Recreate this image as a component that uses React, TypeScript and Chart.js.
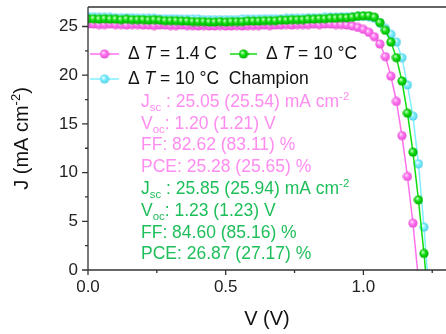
import React, { useEffect, useRef } from "react";
import { Chart, registerables } from "chart.js";

Chart.register(...registerables);

// ---------- data ----------
const voltage = [
  0.0, 0.02, 0.04, 0.06, 0.08, 0.1, 0.12, 0.14, 0.16, 0.18,
  0.2, 0.22, 0.24, 0.26, 0.28, 0.3, 0.32, 0.34, 0.36, 0.38,
  0.4, 0.42, 0.44, 0.46, 0.48, 0.5, 0.52, 0.54, 0.56, 0.58,
  0.6, 0.62, 0.64, 0.66, 0.68, 0.7, 0.72, 0.74, 0.76, 0.78,
  0.8, 0.82, 0.84, 0.86, 0.88, 0.9, 0.92, 0.94, 0.96, 0.98,
  1.0, 1.02, 1.04, 1.06, 1.08, 1.1, 1.12, 1.14, 1.16, 1.18,
  1.2, 1.22, 1.24,
];

// ΔT = 1.4 C
const jPink = [
  25.25, 25.25, 25.2, 25.2, 25.25, 25.2, 25.2, 25.15, 25.2, 25.2,
  25.15, 25.15, 25.1, 25.15, 25.15, 25.1, 25.1, 25.15, 25.1, 25.1,
  25.05, 25.1, 25.05, 25.05, 25.1, 25.05, 25.05, 25.1, 25.05, 25.1,
  25.1, 25.1, 25.15, 25.1, 25.15, 25.15, 25.2, 25.15, 25.2, 25.2,
  25.2, 25.25, 25.2, 25.25, 25.25, 25.2, 25.2, 25.15, 25.05, 24.9,
  24.7, 24.4, 23.95, 23.2, 21.9, 19.9, 17.3, 13.8, 9.6, 4.8,
  -1.0,
];

// ΔT = 10 °C
const jGreen = [
  25.8, 25.8, 25.75, 25.8, 25.75, 25.75, 25.7, 25.75, 25.7, 25.7,
  25.7, 25.65, 25.7, 25.65, 25.6, 25.6, 25.6, 25.55, 25.55, 25.5,
  25.5, 25.5, 25.45, 25.45, 25.5, 25.45, 25.5, 25.5, 25.5, 25.55,
  25.55, 25.55, 25.6, 25.6, 25.6, 25.65, 25.65, 25.7, 25.7, 25.7,
  25.75, 25.75, 25.8, 25.8, 25.85, 25.85, 25.9, 25.9, 25.95, 26.05,
  26.1, 26.1, 25.95, 25.4, 24.6, 23.4, 21.8, 19.4, 16.1, 12.1,
  7.2, 1.7, -4.5,
];

// ΔT = 10 °C Champion
const jCyan = [
  26.0, 26.0, 25.95, 25.95, 25.95, 25.9, 25.9, 25.9, 25.9, 25.85,
  25.85, 25.85, 25.85, 25.8, 25.8, 25.8, 25.8, 25.75, 25.75, 25.75,
  25.75, 25.7, 25.7, 25.7, 25.7, 25.7, 25.7, 25.7, 25.75, 25.75,
  25.75, 25.75, 25.8, 25.8, 25.8, 25.8, 25.85, 25.85, 25.85, 25.85,
  25.9, 25.9, 25.9, 25.95, 25.95, 25.95, 26.0, 26.0, 26.0, 26.05,
  26.05, 26.0, 25.85, 25.4, 24.8, 24.2, 23.4, 21.8, 19.0, 15.8,
  10.9, 4.4, -3.0,
];

const xTickValues = [0, 0.5, 1.0];
const xTickLabels = ["0.0", "0.5", "1.0"];
const xMinorValues = [0.25, 0.75, 1.25];
const yTickValues = [0, 5, 10, 15, 20, 25];
const yTickLabels = ["0", "5", "10", "15", "20", "25"];
const yMinorValues = [2.5, 7.5, 12.5, 17.5, 22.5];

const legendPink = "= 1.4 C";
const legendGreen = "= 10 °C";
const legendCyan = "= 10 °C  Champion";

type Seg = { t: string; k?: "sub" | "sup" | "i" };
const statsPink: Seg[][] = [
  [{ t: "J" }, { t: "sc", k: "sub" }, { t: " : 25.05 (25.54) mA cm" }, { t: "-2", k: "sup" }],
  [{ t: "V" }, { t: "oc", k: "sub" }, { t: ": 1.20 (1.21) V" }],
  [{ t: "FF: 82.62 (83.11) %" }],
  [{ t: "PCE: 25.28 (25.65) %" }],
];
const statsGreen: Seg[][] = [
  [{ t: "J" }, { t: "sc", k: "sub" }, { t: " : 25.85 (25.94) mA cm" }, { t: "-2", k: "sup" }],
  [{ t: "V" }, { t: "oc", k: "sub" }, { t: ": 1.23 (1.23) V" }],
  [{ t: "FF: 84.60 (85.16) %" }],
  [{ t: "PCE: 26.87 (27.17) %" }],
];

// ---------- style ----------
const FONT = "'Liberation Sans', Arial, Helvetica, sans-serif";
const PINK = { base: "#ff6ef0", hi: "#ffe0fb", dark: "#e050d0", line: "#ff70ee", text: "#ff8cf0" };
const GREEN = { base: "#10dd10", hi: "#c8ffc8", dark: "#00a800", line: "#10dd10", text: "#1ebe5a" };
const CYAN = { base: "#78ecff", hi: "#f0ffff", dark: "#50cce0", line: "#80f0ff" };

function makeBall(c: { base: string; hi: string; dark: string }) {
  const cv = document.createElement("canvas");
  cv.width = 10;
  cv.height = 10;
  const g = cv.getContext("2d")!;
  const grad = g.createRadialGradient(3.6, 3.4, 0.3, 5, 5, 5);
  grad.addColorStop(0, c.hi);
  grad.addColorStop(0.45, c.base);
  grad.addColorStop(1, c.dark);
  g.fillStyle = grad;
  g.beginPath();
  g.arc(5, 5, 4.6, 0, Math.PI * 2);
  g.fill();
  return cv;
}

function drawRich(ctx: CanvasRenderingContext2D, segs: Seg[], x: number, y: number, size: number, color: string) {
  ctx.fillStyle = color;
  ctx.textBaseline = "middle";
  ctx.textAlign = "left";
  let cx = x;
  for (const s of segs) {
    let fs = size;
    let dy = 0;
    let st = "";
    if (s.k === "sub") { fs = size * 0.65; dy = size * 0.32; }
    if (s.k === "sup") { fs = size * 0.65; dy = -size * 0.3; }
    if (s.k === "i") st = "italic ";
    ctx.font = `${st}${fs}px ${FONT}`;
    ctx.fillText(s.t, cx, y + dy);
    cx += ctx.measureText(s.t).width;
  }
  return cx;
}

export default function App() {
  const ref = useRef<HTMLCanvasElement | null>(null);

  useEffect(() => {
    if (!ref.current) return;
    const ballPink = makeBall(PINK);
    const ballGreen = makeBall(GREEN);
    const ballCyan = makeBall(CYAN);

    const decor = {
      id: "decor",
      afterDraw(chart: any) {
        const { ctx, chartArea: a, scales } = chart;
        const xs = scales.x;
        const ys = scales.y;
        ctx.save();
        // axes + frame
        ctx.strokeStyle = "#333";
        ctx.lineWidth = 1.3;
        ctx.beginPath();
        ctx.moveTo(a.left, a.top);
        ctx.lineTo(a.right, a.top);
        ctx.moveTo(a.left, a.top);
        ctx.lineTo(a.left, a.bottom);
        ctx.moveTo(a.left, a.bottom);
        ctx.lineTo(a.right, a.bottom);
        for (const v of xTickValues) {
          const px = xs.getPixelForValue(v);
          ctx.moveTo(px, a.bottom);
          ctx.lineTo(px, a.bottom + 5);
        }
        for (const v of xMinorValues) {
          const px = xs.getPixelForValue(v);
          ctx.moveTo(px, a.bottom);
          ctx.lineTo(px, a.bottom + 3);
        }
        for (const v of yTickValues) {
          const py = ys.getPixelForValue(v);
          ctx.moveTo(a.left, py);
          ctx.lineTo(a.left - 6, py);
        }
        for (const v of yMinorValues) {
          const py = ys.getPixelForValue(v);
          ctx.moveTo(a.left, py);
          ctx.lineTo(a.left - 3, py);
        }
        ctx.stroke();

        // tick labels
        ctx.fillStyle = "#222";
        ctx.font = `17px ${FONT}`;
        ctx.textAlign = "center";
        ctx.textBaseline = "middle";
        xTickValues.forEach((v, i) => {
          ctx.fillText(xTickLabels[i], xs.getPixelForValue(v), a.bottom + 17);
        });
        ctx.textAlign = "right";
        yTickValues.forEach((v, i) => {
          ctx.fillText(yTickLabels[i], a.left - 10, ys.getPixelForValue(v));
        });

        // legend
        const lx = a.left;
        const legendRow = (x0: number, y: number, c: any, ball: HTMLCanvasElement, label: string, w: number) => {
          ctx.strokeStyle = c.line;
          ctx.lineWidth = 1.5;
          ctx.beginPath();
          ctx.moveTo(x0, y);
          ctx.lineTo(x0 + w, y);
          ctx.stroke();
          ctx.drawImage(ball, x0 + w / 2 - 5, y - 5);
          drawRich(
            ctx,
            [{ t: "Δ " }, { t: "T", k: "i" }, { t: " " + label }],
            x0 + w + 9,
            y,
            17.5,
            "#111"
          );
        };
        legendRow(lx + 2, a.top + 47, PINK, ballPink, legendPink, 29);
        legendRow(lx + 142, a.top + 47, GREEN, ballGreen, legendGreen, 27);
        legendRow(lx + 2, a.top + 72, CYAN, ballCyan, legendCyan, 29);

        // stats text
        const sx = a.left + 53;
        let sy = a.top + 95;
        const dy = 21.8;
        for (const line of statsPink) {
          drawRich(ctx, line, sx, sy, 17.5, PINK.text);
          sy += dy;
        }
        for (const line of statsGreen) {
          drawRich(ctx, line, sx, sy, 17.5, GREEN.text);
          sy += dy;
        }

        // axis titles
        ctx.fillStyle = "#111";
        ctx.font = `20px ${FONT}`;
        ctx.textAlign = "center";
        ctx.textBaseline = "middle";
        ctx.fillText("V (V)", (a.left + a.right) / 2, 319);

        ctx.save();
        ctx.translate(22, (a.top + a.bottom) / 2);
        ctx.rotate(-Math.PI / 2);
        const ySegs: Seg[] = [{ t: "J (mA cm" }, { t: "-2", k: "sup" }, { t: ")" }];
        let tw = 0;
        for (const s of ySegs) {
          ctx.font = `${s.k === "sup" ? 13 : 20}px ${FONT}`;
          tw += ctx.measureText(s.t).width;
        }
        drawRich(ctx, ySegs, -tw / 2, 0, 20, "#111");
        ctx.restore();

        ctx.restore();
      },
    };

    const chart = new Chart(ref.current, {
      type: "line",
      data: {
        datasets: [
          {
            label: "ΔT = 1.4 C",
            data: jPink.map((j, i) => ({ x: voltage[i], y: j })),
            borderColor: PINK.line,
            borderWidth: 1.5,
            pointStyle: ballPink as any,
            pointRadius: 4.5,
            order: 2,
          },
          {
            label: "ΔT = 10 °C",
            data: jGreen.map((j, i) => ({ x: voltage[i], y: j })),
            borderColor: GREEN.line,
            borderWidth: 1.5,
            pointStyle: ballGreen as any,
            pointRadius: 4.5,
            order: 1,
          },
          {
            label: "ΔT = 10 °C Champion",
            data: jCyan.map((j, i) => ({ x: voltage[i], y: j })),
            borderColor: CYAN.line,
            borderWidth: 1.5,
            pointStyle: ballCyan as any,
            pointRadius: 4.5,
            order: 3,
          },
        ],
      },
      options: {
        animation: false,
        responsive: true,
        maintainAspectRatio: false,
        layout: { autoPadding: false, padding: { top: 7, right: 0, left: 0, bottom: 0 } },
        plugins: { legend: { display: false }, tooltip: { enabled: false } },
        scales: {
          x: {
            type: "linear",
            min: 0,
            max: 1.3,
            grid: { display: false, drawTicks: false },
            border: { display: false },
            ticks: { display: false },
            afterFit: (s: any) => {
              s.height = 64;
              s.paddingLeft = 0;
              s.paddingRight = 0;
            },
          },
          y: {
            type: "linear",
            min: 0,
            max: 27,
            grid: { display: false, drawTicks: false },
            border: { display: false },
            ticks: { display: false },
            afterFit: (s: any) => {
              s.width = 88;
              s.paddingTop = 0;
              s.paddingBottom = 0;
            },
          },
        },
      },
      plugins: [decor],
    });
    return () => chart.destroy();
  }, []);

  return (
    <div style={{ position: "fixed", left: 0, top: 0, width: 446, height: 334, background: "#fff" }}>
      <canvas ref={ref} />
    </div>
  );
}
